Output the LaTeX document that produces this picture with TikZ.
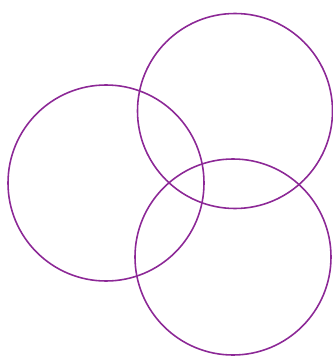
\documentclass[tikz,border=0pt]{standalone}
\definecolor{ringpurple}{RGB}{140,40,150}

\begin{document}
\begin{tikzpicture}[x=0.02cm,y=-0.02cm]
        \tikzset{ring/.style={draw=ringpurple,line width=0.9pt}}
        \useasboundingbox (0,0) rectangle (333,358);

        \draw[ring] (106,183) circle (98);
        \draw[ring] (235,111) circle (97.5);
        \draw[ring] (233,257) circle (98);
\end{tikzpicture}
\end{document}
